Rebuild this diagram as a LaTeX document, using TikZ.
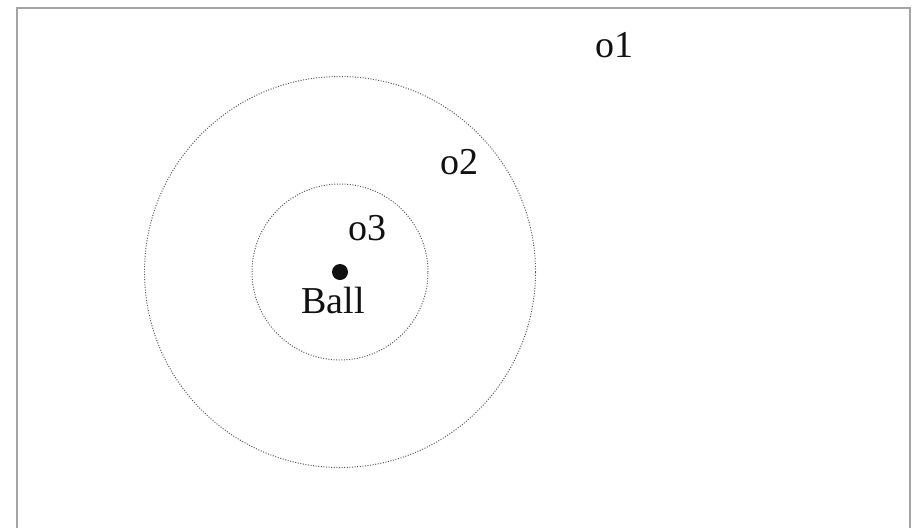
\documentclass[tikz,border=0pt]{standalone}
\usepackage{fontspec}
\setmainfont{Liberation Serif}
\usepackage{tikz}
\usetikzlibrary{positioning}
\definecolor{SBFrame}{HTML}{A4A4A4}
\definecolor{SBRing}{HTML}{5A5A5A}
\definecolor{SBInk}{HTML}{111111}
\tikzset{
  ring/.style={SBRing,line width=0.5pt,dash pattern=on 0.5pt off 0.8pt},
  lbl/.style={anchor=base,inner sep=0pt,text=SBInk,font=\fontsize{19}{22}\selectfont},
}

\begin{document}
\begin{tikzpicture}[x=0.5pt,y=-0.5pt]
    \useasboundingbox (0,0) rectangle (915,527);
    \clip (0,0) rectangle (915,527);
    \fill[white] (0,0) rectangle (915,527);
    \draw[SBFrame,line width=1pt] (17,540) -- (17,8) -- (910,8) -- (910,540);
    \coordinate (c) at (340,272);
    \draw[ring] (c) circle (97.75pt);
    \draw[ring] (c) circle (44pt);
    \fill[SBInk] (c) circle (4pt);
    \node[lbl] (o1) at (614,57) {o1};
    \node[lbl] (o2) at (459,174) {o2};
    \node[lbl] (o3) at (367,240) {o3};
    \node[lbl] (ball) at (333,313) {Ball};
  \end{tikzpicture}
\end{document}
